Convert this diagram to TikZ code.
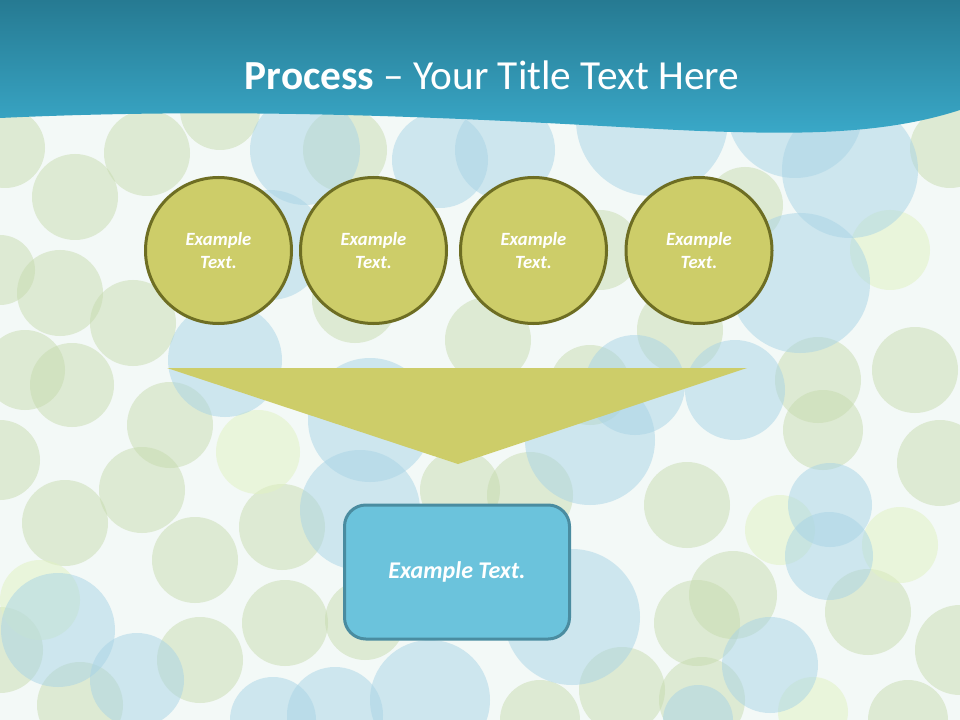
\documentclass[tikz,border=0pt]{standalone}
\usepackage{fontspec}
\setmainfont{Carlito}
\definecolor{bgc}{HTML}{F3F9F7}
\definecolor{bubG}{HTML}{C6DAAC}
\definecolor{bubB}{HTML}{A8D4E6}
\definecolor{bubY}{HTML}{E2F2C4}
\definecolor{barTop}{HTML}{267A92}
\definecolor{barBot}{HTML}{3AA9C9}
\definecolor{olivefill}{HTML}{CDCD69}
\definecolor{olivedraw}{HTML}{6E6E23}
\definecolor{boxfill}{HTML}{6BC3DC}
\definecolor{boxdraw}{HTML}{4A8CA0}
\begin{document}
\begin{tikzpicture}[x=0.75pt,y=-0.75pt,
  bg/.style={fill=bgc},
  gb/.style={fill=bubG,fill opacity=0.48},
  bb/.style={fill=bubB,fill opacity=0.5},
  yb/.style={fill=bubY,fill opacity=0.55},
  stepcirc/.style={circle,fill=olivefill,draw=olivedraw,line width=2.25pt,minimum size=109.5pt,inner sep=0pt,align=center,text=white,font=\fontsize{14pt}{17pt}\selectfont\bfseries\itshape},
  resultbox/.style={rounded corners=16pt,fill=boxfill,draw=boxdraw,line width=2.25pt,minimum width=168.75pt,minimum height=100.5pt,text=white,font=\fontsize{18pt}{22pt}\selectfont\bfseries\itshape}]
\useasboundingbox (0,0) rectangle (960,720);
\fill[bg] (0,0) rectangle (960,720);
\begin{scope}
\clip (0,0) rectangle (960,720);
% green bubbles
\foreach \x/\y/\r in {5/148/40,147/153/43,220/110/40,75/197/43,0/270/35,60/293/43,133/323/43,25/370/40,72/385/42,355/300/43,488/340/43,950/148/40,745/205/38,600/250/40,680/330/43,818/380/43,915/370/43,590/385/40,0/460/40,170/425/43,142/490/43,65/523/43,195/560/43,282/527/43,460/490/40,285/623/43,200/660/43,80/705/43,0/650/43,365/620/40,940/463/43,530/495/43,687/505/43,868/612/43,960/650/45,697/623/43,733/595/44,622/690/43,702/700/43,540/720/40,908/720/40,823/430/40,345/150/42}
  \fill[gb] (\x,\y) circle[radius=\r*0.75pt];
% pale yellow bubbles
\foreach \x/\y/\r in {890/250/40,258/452/42,780/530/35,900/545/38,813/712/35,40/600/40}
  \fill[yb] (\x,\y) circle[radius=\r*0.75pt];
% blue bubbles
\foreach \x/\y/\r in {305/150/55,440/160/48,505/150/50,225/360/57,270/245/55,652/120/76,795/110/68,850/170/68,800/283/70,635/385/50,735/390/50,370/420/62,360/510/60,58/630/57,137/680/47,273/720/43,335/715/48,430/700/60,590/440/65,830/505/42,829/556/44,572/617/68,770/665/48,698/720/35}
  \fill[bb] (\x,\y) circle[radius=\r*0.75pt];
\end{scope}
% title bar
\shade[top color=barTop,bottom color=barBot]
  (0,0) -- (960,0) -- (960,110)
  .. controls (880,136) and (790,134) .. (700,131)
  .. controls (560,125) and (300,104) .. (0,118) -- cycle;
\node[text=white,font=\fontsize{31pt}{37pt}\selectfont] (title) at (492,75)
  {\textbf{Process} – Your Title Text Here};
% circles
\node[stepcirc] (c1) at (218.5,250.5) {Example\\Text.};
\node[stepcirc] (c2) at (373.5,250.5) {Example\\Text.};
\node[stepcirc] (c3) at (533.5,250.5) {Example\\Text.};
\node[stepcirc] (c4) at (699,250.5) {Example\\Text.};
% funnel
\fill[olivefill] (167,368) -- (747,368) -- (458,464) -- cycle;
% result box
\node[resultbox] (res) at (457,572) {\raisebox{-2pt}{Example Text.}};
\end{tikzpicture}
\end{document}
